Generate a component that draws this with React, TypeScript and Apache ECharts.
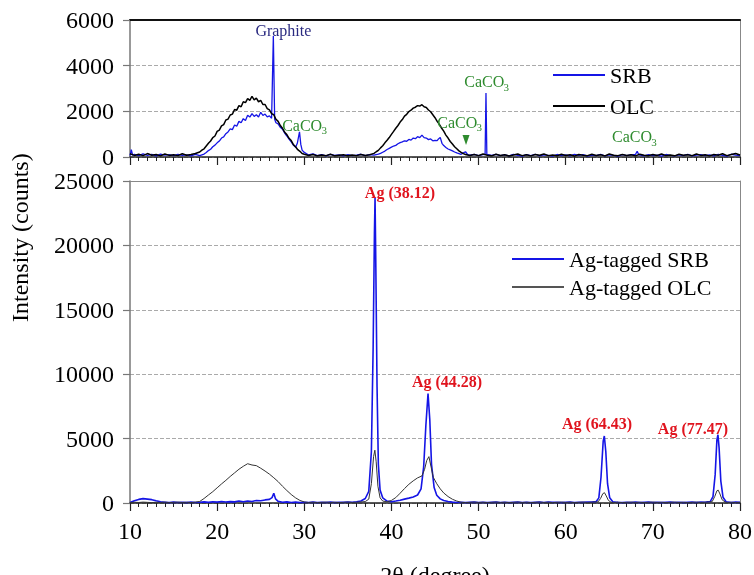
import React, { useEffect, useRef } from "react";
import * as echarts from "echarts";

// ---------- DATA ----------
const xTicks = [10, 20, 30, 40, 50, 60, 70, 80];
const topYTicks = [0, 2000, 4000, 6000];
const bottomYTicks = [0, 5000, 10000, 15000, 20000, 25000];

const seriesNames = ["SRB", "OLC", "Ag-tagged SRB", "Ag-tagged OLC"];

// Upper panel: SRB (blue)
const srb: number[][] = [
  [10, 60], [10.15, 320], [10.3, 80], [10.5, 120], [11, 60], [11.5, 140], [12, 70], [12.5, 110], [13, 50], [13.5, 130],
  [14, 80], [14.5, 100], [15, 60], [15.5, 120], [16, 70], [16.5, 90], [17, 50], [17.5, 110], [18, 60],
  [18.5, 130], [18.75, 200], [19, 280], [19.25, 340], [19.5, 450], [19.75, 520], [20, 620], [20.25, 700], [20.5, 830], [20.75, 880],
  [21, 1020], [21.25, 1100], [21.5, 1230], [21.75, 1200], [22, 1400], [22.25, 1350], [22.5, 1560], [22.75, 1500], [23, 1680], [23.25, 1600],
  [23.5, 1830], [23.75, 1750], [24, 1900], [24.25, 1780], [24.5, 1850], [24.75, 1750], [25, 1960], [25.25, 1820], [25.5, 1880], [25.75, 1760],
  [26, 1800], [26.25, 1700], [26.45, 5300], [26.6, 1650], [26.75, 1500], [27, 1450], [27.25, 1300], [27.5, 1220], [27.75, 1050], [28, 920],
  [28.25, 780], [28.5, 660], [28.75, 520], [29, 430], [29.2, 600], [29.45, 1100], [29.6, 550], [29.75, 300], [30, 200],
  [30.5, 90], [31, 140], [31.5, 60], [32, 100], [32.5, 50], [33, 110], [33.5, 70], [34, 90], [34.5, 50], [35, 100],
  [35.5, 60], [36, 80], [36.5, 120], [37, 60], [37.5, 100], [38, 80],
  [38.5, 130], [38.75, 160], [39, 210], [39.25, 260], [39.5, 330], [39.75, 380], [40, 430], [40.25, 480], [40.5, 510], [40.75, 580],
  [41, 630], [41.25, 660], [41.5, 710], [41.75, 690], [42, 770], [42.25, 740], [42.5, 830], [42.75, 800], [43, 890], [43.25, 850],
  [43.5, 960], [43.75, 850], [44, 830], [44.25, 760], [44.5, 790], [44.75, 710], [45, 730], [45.25, 720], [45.4, 790], [45.6, 860],
  [45.8, 600], [46, 500], [46.25, 420], [46.5, 350], [46.75, 310], [47, 270], [47.25, 220], [47.5, 180], [47.75, 150], [48, 120],
  [48.25, 180], [48.5, 230], [48.75, 100], [49, 80], [49.5, 110], [50, 60], [50.5, 100], [50.75, 120],
  [50.85, 2800], [50.95, 110], [51.5, 70], [52, 120], [52.5, 60], [53, 90], [53.5, 50], [54, 110], [54.5, 70], [55, 40],
  [55.5, 100], [56, 60], [56.5, 120], [57, 50], [57.5, 90], [58, 70], [58.5, 40], [59, 110], [59.5, 60], [60, 90],
  [60.5, 50], [61, 120], [61.5, 70], [62, 100], [62.5, 40], [63, 80], [63.5, 60], [64, 110], [64.5, 50], [65, 90],
  [65.5, 70], [66, 40], [66.5, 100], [67, 60], [67.5, 90], [68, 110], [68.2, 250], [68.4, 90], [69, 50], [69.5, 100],
  [70, 60], [70.5, 80], [71, 40], [71.5, 110], [72, 70], [72.5, 50], [73, 90], [73.5, 60], [74, 120], [74.5, 50],
  [75, 80], [75.5, 100], [76, 60], [76.5, 90], [77, 50], [77.5, 110], [78, 70], [78.5, 40], [79, 120], [79.5, 80], [80, 60],
];

// Upper panel: OLC (black)
const olc: number[][] = [
  [10, 140], [10.5, 70], [11, 120], [11.5, 60], [12, 150], [12.5, 80], [13, 110], [13.5, 50], [14, 130], [14.5, 70],
  [15, 100], [15.5, 60], [16, 140], [16.5, 80], [17, 110], [17.5, 150],
  [18, 220], [18.25, 300], [18.5, 360], [18.75, 480], [19, 600], [19.25, 700], [19.5, 850], [19.75, 920], [20, 1120], [20.25, 1180],
  [20.5, 1360], [20.75, 1420], [21, 1620], [21.25, 1660], [21.5, 1840], [21.75, 1880], [22, 2080], [22.25, 2050], [22.5, 2250], [22.75, 2200],
  [23, 2420], [23.25, 2380], [23.5, 2560], [23.75, 2480], [24, 2660], [24.25, 2500], [24.5, 2580], [24.75, 2420], [25, 2480], [25.25, 2300],
  [25.5, 2300], [25.75, 2120], [26, 2060], [26.25, 1900], [26.5, 1850], [26.75, 1650], [27, 1560], [27.25, 1380], [27.5, 1260], [27.75, 1080],
  [28, 980], [28.25, 820], [28.5, 720], [28.75, 540], [29, 450], [29.25, 320], [29.5, 250], [29.75, 150], [30, 120],
  [30.5, 70], [31, 110], [31.5, 50], [32, 90], [32.5, 60], [33, 120], [33.5, 50], [34, 80], [34.5, 100],
  [35, 50], [35.5, 90], [36, 60], [36.5, 110], [37, 70], [37.5, 100],
  [38, 160], [38.25, 230], [38.5, 290], [38.75, 400], [39, 490], [39.25, 620], [39.5, 730], [39.75, 850], [40, 990], [40.25, 1120],
  [40.5, 1260], [40.75, 1380], [41, 1530], [41.25, 1640], [41.5, 1790], [41.75, 1870], [42, 1990], [42.25, 2050], [42.5, 2140], [42.75, 2180],
  [43, 2250], [43.25, 2230], [43.5, 2290], [43.75, 2200], [44, 2170], [44.25, 2060], [44.5, 1980], [44.75, 1850], [45, 1720], [45.25, 1560],
  [45.5, 1430], [45.75, 1270], [46, 1130], [46.25, 960], [46.5, 830], [46.75, 680], [47, 570], [47.25, 450], [47.5, 360], [47.75, 270],
  [48, 200], [48.25, 150], [48.5, 110], [49, 70], [49.5, 110],
  [50, 60], [50.5, 130], [51, 80], [51.5, 50], [52, 120], [52.5, 70], [53, 100], [53.5, 40], [54, 90], [54.5, 130],
  [55, 60], [55.5, 100], [56, 50], [56.5, 110], [57, 80], [57.5, 130], [58, 60], [58.5, 90], [59, 50], [59.5, 120],
  [60, 70], [60.5, 100], [61, 40], [61.5, 110], [62, 80], [62.5, 60], [63, 120], [63.5, 70], [64, 100], [64.5, 50],
  [65, 130], [65.5, 80], [66, 60], [66.5, 110], [67, 70], [67.5, 100], [68, 50], [68.5, 120], [69, 80], [69.5, 60],
  [70, 110], [70.5, 70], [71, 130], [71.5, 60], [72, 90], [72.5, 50], [73, 120], [73.5, 80], [74, 100], [74.5, 60],
  [75, 130], [75.5, 70], [76, 100], [76.5, 50], [77, 110], [77.5, 80], [78, 140], [78.5, 60], [79, 110], [79.5, 150], [80, 90],
];

// Lower panel: Ag-tagged SRB (blue)
const agSrb: number[][] = [
  [10, 40], [10.5, 180], [11, 280], [11.5, 340], [12, 300], [12.5, 260], [13, 170], [13.5, 90], [14, 60], [14.5, 30],
  [15, 70], [15.5, 40], [16, 60], [16.5, 30], [17, 70], [17.5, 40], [18, 60], [18.5, 90], [19, 50], [19.5, 100],
  [20, 70], [20.5, 120], [21, 80], [21.5, 110], [22, 90], [22.5, 150], [23, 100], [23.5, 160], [24, 120], [24.5, 200],
  [25, 170], [25.5, 240], [26, 280], [26.3, 420], [26.5, 760], [26.7, 320], [27, 130], [27.5, 60], [28, 90], [28.5, 40],
  [29, 70], [29.5, 30], [30, 60], [30.5, 40], [31, 70], [31.5, 30], [32, 60], [32.5, 40], [33, 70], [33.5, 30],
  [34, 60], [34.5, 50], [35, 80], [35.5, 60], [36, 100], [36.5, 160], [37, 350], [37.4, 900], [37.7, 4000], [37.9, 12000],
  [38.05, 21000], [38.12, 23700], [38.2, 19000], [38.35, 9000], [38.5, 3000], [38.7, 1000], [39, 400], [39.5, 150], [40, 100], [40.5, 150],
  [41, 220], [41.5, 300], [42, 380], [42.5, 470], [43, 620], [43.4, 1100], [43.7, 2800], [43.95, 6000], [44.2, 8500], [44.4, 6500],
  [44.6, 3000], [44.9, 1200], [45.2, 600], [45.6, 320], [46, 200], [46.5, 120], [47, 70], [47.5, 40], [48, 60], [48.5, 30],
  [49, 50], [49.5, 70], [50, 40], [50.5, 60], [51, 30], [51.5, 50], [52, 70], [52.5, 40], [53, 60], [53.5, 30],
  [54, 50], [54.5, 70], [55, 40], [55.5, 60], [56, 30], [56.5, 50], [57, 70], [57.5, 40], [58, 80], [58.5, 50],
  [59, 60], [59.5, 30], [60, 50], [60.5, 70], [61, 40], [61.5, 60], [62, 50], [62.5, 80], [63, 70], [63.5, 110],
  [63.8, 400], [64.05, 2000], [64.3, 4800], [64.43, 5200], [64.6, 4000], [64.8, 1500], [65.05, 400], [65.4, 100], [65.8, 60], [66, 50],
  [66.5, 30], [67, 60], [67.5, 40], [68, 70], [68.5, 30], [69, 50], [69.5, 70], [70, 40], [70.5, 60], [71, 30],
  [71.5, 50], [72, 70], [72.5, 40], [73, 60], [73.5, 30], [74, 50], [74.5, 70], [75, 40], [75.5, 80], [76, 60],
  [76.3, 100], [76.6, 120], [76.9, 500], [77.15, 2200], [77.35, 4900], [77.47, 5300], [77.6, 4300], [77.8, 1700], [78.05, 450], [78.4, 100],
  [78.8, 60], [79, 40], [79.5, 70], [80, 50],
];

// Lower panel: Ag-tagged OLC (black)
const agOlc: number[][] = [
  [10, 30], [10.5, 60], [11, 40], [11.5, 70], [12, 50], [12.5, 30], [13, 60], [13.5, 40], [14, 70], [14.5, 30],
  [15, 50], [15.5, 70], [16, 40], [16.5, 60], [17, 30], [17.5, 70], [18, 120], [18.5, 350], [19, 620], [19.5, 880],
  [20, 1180], [20.5, 1480], [21, 1760], [21.5, 2060], [22, 2340], [22.5, 2620], [23, 2850], [23.5, 3050], [24, 2950], [24.5, 2900],
  [25, 2700], [25.5, 2480], [26, 2240], [26.5, 1960], [27, 1660], [27.5, 1300], [28, 970], [28.5, 660], [29, 400], [29.5, 200],
  [30, 80], [30.5, 40], [31, 60], [31.5, 30], [32, 50], [32.5, 70], [33, 40], [33.5, 60], [34, 30], [34.5, 50],
  [35, 70], [35.5, 40], [36, 60], [36.5, 80], [37, 110], [37.4, 300], [37.7, 1500], [37.95, 3600], [38.1, 4100], [38.25, 3200],
  [38.45, 1300], [38.7, 400], [39, 150], [39.5, 90], [40, 200], [40.5, 420], [41, 760], [41.5, 1120], [42, 1450], [42.5, 1720],
  [43, 1950], [43.5, 2100], [43.8, 2600], [44.05, 3300], [44.3, 3600], [44.55, 2800], [44.8, 2000], [45.2, 1500], [45.6, 1100], [46, 780],
  [46.5, 500], [47, 290], [47.5, 150], [48, 60], [48.5, 30], [49, 50], [49.5, 70], [50, 40], [50.5, 60], [51, 30],
  [51.5, 50], [52, 70], [52.5, 40], [53, 60], [53.5, 30], [54, 50], [54.5, 70], [55, 40], [55.5, 60], [56, 30],
  [56.5, 50], [57, 70], [57.5, 40], [58, 60], [58.5, 30], [59, 50], [59.5, 70], [60, 40], [60.5, 60], [61, 30],
  [61.5, 50], [62, 70], [62.5, 40], [63, 60], [63.5, 80], [63.7, 80], [64.0, 350], [64.25, 720], [64.45, 800], [64.65, 550],
  [64.9, 200], [65.2, 60], [65.5, 40], [66, 60], [66.5, 30], [67, 50], [67.5, 70], [68, 40], [68.5, 60], [69, 30],
  [69.5, 50], [70, 70], [70.5, 40], [71, 60], [71.5, 30], [72, 50], [72.5, 70], [73, 40], [73.5, 60], [74, 30],
  [74.5, 50], [75, 70], [75.5, 40], [76, 60], [76.5, 80], [76.8, 100], [77.1, 500], [77.35, 950], [77.5, 1000], [77.7, 700],
  [77.95, 250], [78.3, 70], [78.6, 40], [79, 60], [79.5, 30], [80, 50],
];

// Annotations: [x (2θ), y (counts)]
const graphiteNote: [string, number, number] = ["Graphite", 27.6, 5560];
const caco3Notes: [number, number][] = [
  [30.1, 1400],
  [51.0, 3285],
  [47.9, 1530],
  [67.95, 876],
];
const caco3Marker: [number, number] = [48.56, 745];
const agNotes: [string, number, number][] = [
  ["Ag (38.12)", 40.98, 24070],
  ["Ag (44.28)", 46.38, 9470],
  ["Ag (64.43)", 63.6, 6210],
  ["Ag (77.47)", 74.6, 5820],
];

// ---------- STYLE ----------
const FONT = "Liberation Serif";
const TEXT = "#000";
const BLUE = "#1515e6";
const GREEN = "#2e8b2e";
const NAVY = "#2a2a80";
const RED = "#e0141e";

export default function App() {
  const ref = useRef<HTMLDivElement>(null);

  useEffect(() => {
    if (!ref.current) return;
    const chart = echarts.init(ref.current, null, { renderer: "svg" });

    const xRange = { min: xTicks[0], max: xTicks[xTicks.length - 1] };

    const xCommon = {
      type: "value",
      ...xRange,
      interval: 10,
      splitLine: { show: false },
      axisLine: { show: true, onZero: false, lineStyle: { color: "#222", width: 1.5 } },
      axisTick: { show: true, inside: false, length: 8, lineStyle: { color: "#222", width: 1.2 } },
      minorTick: { show: true, splitNumber: 10, length: 4, lineStyle: { color: "#222", width: 1 } },
    };

    const frameX = (gridIndex: number, color: string, width: number) => ({
      type: "value",
      gridIndex,
      position: "top",
      ...xRange,
      axisLine: { show: true, onZero: false, lineStyle: { color, width } },
      axisTick: { show: false },
      axisLabel: { show: false },
      splitLine: { show: false },
    });

    const frameY = (gridIndex: number, max: number) => ({
      type: "value",
      gridIndex,
      position: "right",
      min: 0,
      max,
      axisLine: { show: true, onZero: false, lineStyle: { color: "#888", width: 1 } },
      axisTick: { show: false },
      axisLabel: { show: false },
      splitLine: { show: false },
    });

    const yCommon = {
      type: "value",
      min: 0,
      axisLine: { show: true, lineStyle: { color: "#777", width: 1.5 } },
      axisTick: { show: true, inside: false, length: 7, lineStyle: { color: "#777", width: 1.2 } },
      axisLabel: {
        fontFamily: FONT,
        fontSize: 24,
        color: TEXT,
        margin: 16,
        formatter: (v: number) => String(v),
      },
      splitLine: { show: true, lineStyle: { color: "#aaa", type: "dashed", width: 1 } },
    };

    const note = (label: any, coord: number[]) => ({
      coord,
      symbol: "circle",
      symbolSize: 1,
      itemStyle: { color: "rgba(0,0,0,0)" },
      label: { show: true, position: "inside", ...label },
    });

    const option: any = {
      animation: false,
      grid: [
        { left: 130, right: 14, top: 20, height: 137, containLabel: false, outerBoundsMode: "none" },
        { left: 130, right: 14, top: 181, height: 322, containLabel: false, outerBoundsMode: "none" },
      ],
      xAxis: [
        { ...xCommon, gridIndex: 0, axisLabel: { show: false } },
        {
          ...xCommon,
          gridIndex: 1,
          axisLabel: { fontFamily: FONT, fontSize: 24, color: TEXT, margin: 16 },
          name: "2θ (degree)",
          nameLocation: "middle",
          nameGap: 60,
          nameTextStyle: { fontFamily: FONT, fontSize: 24, color: TEXT },
        },
        frameX(0, "#111", 2),
        frameX(1, "#888", 1),
      ],
      yAxis: [
        { ...yCommon, gridIndex: 0, max: topYTicks[topYTicks.length - 1], interval: 2000 },
        { ...yCommon, gridIndex: 1, max: bottomYTicks[bottomYTicks.length - 1], interval: 5000 },
        frameY(0, topYTicks[topYTicks.length - 1]),
        frameY(1, bottomYTicks[bottomYTicks.length - 1]),
      ],
      legend: [
        {
          data: [seriesNames[0], seriesNames[1]],
          orient: "vertical",
          left: 548,
          top: 59,
          icon: "rect",
          itemWidth: 52,
          itemHeight: 2,
          itemGap: 9,
          textStyle: { fontFamily: FONT, fontSize: 22, color: TEXT },
        },
        {
          data: [seriesNames[2], seriesNames[3]],
          orient: "vertical",
          left: 507,
          top: 243,
          icon: "rect",
          itemWidth: 52,
          itemHeight: 2,
          itemGap: 6,
          textStyle: { fontFamily: FONT, fontSize: 22, color: TEXT },
        },
      ],
      graphic: [
        {
          type: "text",
          x: 8,
          y: 322,
          rotation: Math.PI / 2,
          style: { text: "Intensity (counts)", fontFamily: FONT, fontSize: 24, fill: TEXT },
        },
      ],
      series: [
        {
          name: seriesNames[0],
          type: "line",
          xAxisIndex: 0,
          yAxisIndex: 0,
          data: srb,
          showSymbol: false,
          symbol: "none",
          lineStyle: { color: BLUE, width: 1.3 },
          itemStyle: { color: BLUE },
          markPoint: {
            data: [
              note({ formatter: graphiteNote[0], fontFamily: FONT, fontSize: 16, color: NAVY }, [graphiteNote[1], graphiteNote[2]]),
              ...caco3Notes.map((c) =>
                note({ formatter: "CaCO", fontFamily: FONT, fontSize: 16, color: GREEN, offset: [-3, 0] }, c)
              ),
              ...caco3Notes.map((c) =>
                note({ formatter: "3", fontFamily: FONT, fontSize: 11, color: GREEN, offset: [19, 5] }, c)
              ),
              {
                coord: caco3Marker,
                symbol: "triangle",
                symbolRotate: 180,
                symbolSize: [7, 10],
                itemStyle: { color: GREEN },
                label: { show: false },
              },
            ],
          },
        },
        {
          name: seriesNames[1],
          type: "line",
          xAxisIndex: 0,
          yAxisIndex: 0,
          data: olc,
          showSymbol: false,
          symbol: "none",
          lineStyle: { color: "#000", width: 1.5 },
          itemStyle: { color: "#000" },
        },
        {
          name: seriesNames[2],
          type: "line",
          xAxisIndex: 1,
          yAxisIndex: 1,
          data: agSrb,
          showSymbol: false,
          symbol: "none",
          lineStyle: { color: BLUE, width: 1.6 },
          itemStyle: { color: BLUE },
          markPoint: {
            data: agNotes.map((n) =>
              note({ formatter: n[0], fontFamily: FONT, fontSize: 16, fontWeight: "bold", color: RED }, [n[1], n[2]])
            ),
          },
        },
        {
          name: seriesNames[3],
          type: "line",
          xAxisIndex: 1,
          yAxisIndex: 1,
          data: agOlc,
          showSymbol: false,
          symbol: "none",
          lineStyle: { color: "#333", width: 1 },
          itemStyle: { color: "#555" },
        },
      ],
    };

    chart.setOption(option);
    return () => chart.dispose();
  }, []);

  return <div ref={ref} style={{ position: "fixed", left: 0, top: 0, width: 754, height: 575 }} />;
}
